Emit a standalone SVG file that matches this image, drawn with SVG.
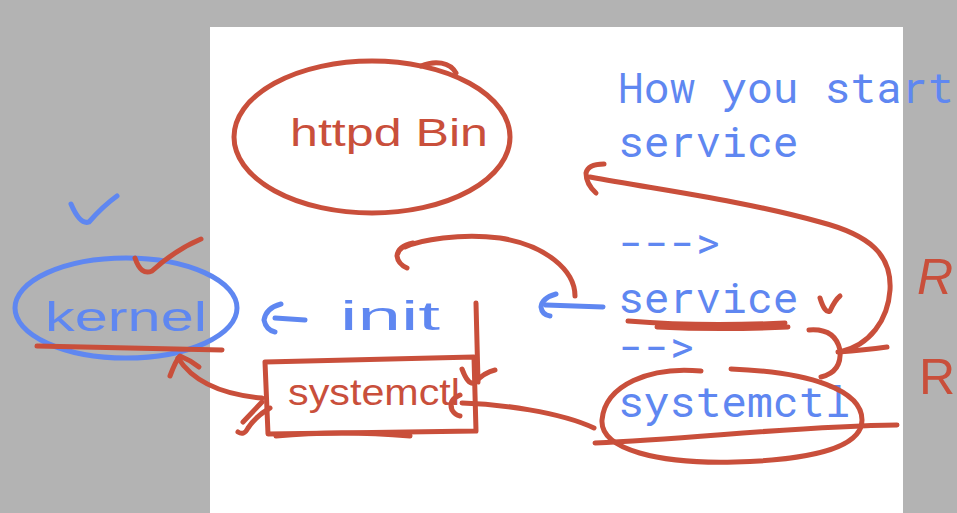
<svg xmlns="http://www.w3.org/2000/svg" width="957" height="513" viewBox="0 0 957 513">
<style>
.r{fill:none;stroke:#c94f3b;stroke-width:5;stroke-linecap:round;stroke-linejoin:round}
.b{fill:none;stroke:#5f87f1;stroke-width:5;stroke-linecap:round;stroke-linejoin:round}
.mono{font-family:"Roboto Mono","DejaVu Sans Mono","Liberation Mono",monospace;font-size:43px;fill:#5f87f1}
.hr{font-family:"Liberation Sans","DejaVu Sans",sans-serif;fill:#c94f3b}
.hb{font-family:"Liberation Sans","DejaVu Sans",sans-serif;fill:#5f87f1}
</style>
<rect x="0" y="0" width="957" height="513" fill="#b3b3b3"/>
<rect x="210" y="27" width="693" height="486" fill="#ffffff"/>

<g id="notes">
<text class="mono" x="618" y="103">How you start</text>
<text class="mono" x="618" y="157">service</text>
<text class="mono" x="618" y="258">---&gt;</text>
<text class="mono" x="618" y="313">service</text>
<text class="mono" x="618" y="362">--&gt;</text>
<text class="mono" x="618" y="417">systemctl</text>
<text class="hr" x="917" y="294" font-size="50" font-style="italic">R</text>
<text class="hr" x="919" y="394" font-size="50">R</text>
</g>

<g id="httpd">
<ellipse class="r" cx="372" cy="137" rx="138" ry="76"/>
<path class="r" d="M421 66 C435 60 450 62 456 73"/>
<text class="hr" x="290" y="146" font-size="38" textLength="198" lengthAdjust="spacingAndGlyphs">httpd Bin</text>
</g>

<g id="kernel">
<ellipse class="b" cx="126" cy="308" rx="111" ry="50"/>
<text class="hb" x="45" y="331" font-size="40" textLength="162" lengthAdjust="spacingAndGlyphs">kernel</text>
<path class="r" d="M37 346 L222 350"/>
<path class="b" d="M71 204 Q80 225 89 222 Q103 206 117 196"/>
<path class="r" d="M135 258 Q141 276 152 271 Q175 250 201 239"/>
</g>

<g id="init">
<text class="hb" x="340" y="330" font-size="40" textLength="100" lengthAdjust="spacingAndGlyphs">init</text>
</g>

<g id="systemctl-box">
<path class="r" d="M265 362 L474 357 L476 431 L268 434 Z"/>
<text class="hr" x="288" y="405" font-size="36" textLength="172" lengthAdjust="spacingAndGlyphs">systemctl</text>
<path class="r" d="M476 303 L478 382"/>
<path class="r" d="M462 369 Q468 385 474 383 Q485 372 495 370"/>
<path class="r" d="M460 395 Q448 400 452 410 Q455 415 460 416"/>
<path class="r" d="M276 436 Q340 430 410 436"/>
</g>

<g id="connectors">
<path class="r" d="M262 398 C228 395 195 385 178 358"/>
<path class="r" d="M170 376 Q176 360 180 356 Q190 360 199 367"/>
<path class="r" d="M238 432 Q244 436 248 428 Q256 416 270 408"/>
<path class="r" d="M243 422 L262 402"/>
<path class="r" d="M462 403 C500 404 560 412 594 428"/>
<path class="r" d="M701 371 C650 366 605 385 602 420 C600 450 660 464 735 462 C810 460 862 448 862 420 C862 390 810 372 731 369"/>
<path class="r" d="M595 443 C700 438 800 426 897 425"/>
<path class="r" d="M628 321 Q700 327 785 323"/>
<path class="r" d="M657 327 Q720 330 788 327"/>
<path class="r" d="M820 298 Q825 314 830 311 Q835 300 840 296"/>
<path class="r" d="M809 330 Q835 328 840 350 Q842 372 821 377"/>
<path class="r" d="M838 352 Q865 350 887 347"/>
<path class="r" d="M840 352 C870 345 888 320 890 290 C892 255 870 235 820 222 C740 200 660 190 590 177"/>
<path class="r" d="M604 164 Q588 164 586 173 Q586 184 596 193"/>
<path class="r" d="M575 296 C575 270 545 245 500 238 C460 233 420 240 405 247"/>
<path class="r" d="M413 243 Q398 246 397 256 Q398 264 407 268"/>
<path class="b" d="M546 305 L603 307"/>
<path class="b" d="M556 294 Q542 298 541 307 Q542 315 550 316"/>
<path class="b" d="M275 318 L305 320"/>
<path class="b" d="M281 304 Q266 308 264 320 Q266 330 275 332"/>
</g>
</svg>
